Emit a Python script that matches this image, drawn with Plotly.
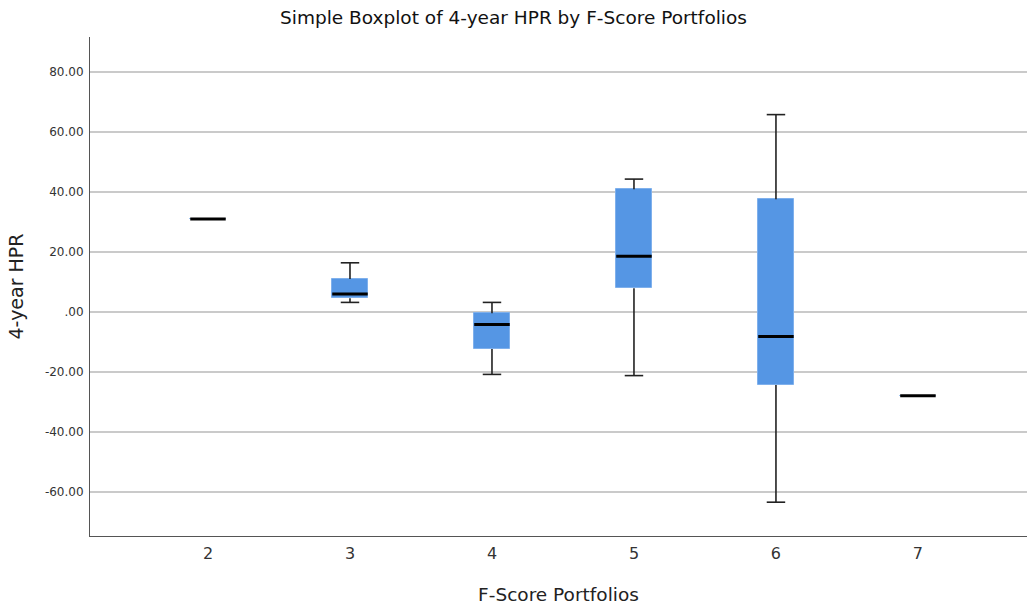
import plotly.graph_objects as go

# ---- data ----
categories = [2, 3, 4, 5, 6, 7]
tick_labels = ["2", "3", "4", "5", "6", "7"]
lower_whisker = [31.0, 3.2, -20.8, -21.2, -63.4, -27.9]
q1 = [31.0, 4.6, -12.3, 7.9, -24.3, -27.9]
median = [31.0, 6.0, -4.2, 18.6, -8.2, -27.9]
q3 = [31.0, 11.0, -0.4, 40.9, 37.6, -27.9]
upper_whisker = [31.0, 16.4, 3.2, 44.3, 65.8, -27.9]
y_ticks = [-60, -40, -20, 0, 20, 40, 60, 80]
y_tick_labels = ["-60.00", "-40.00", "-20.00", ".00", "20.00", "40.00", "60.00", "80.00"]

BOX_W = 0.25
CAP_HALF = 0.065
FILL = "#5596E4"

fig = go.Figure()

# boxes (q1..q3)
fig.add_trace(go.Bar(
    x=categories,
    y=[b - a for a, b in zip(q1, q3)],
    base=q1,
    width=BOX_W,
    marker=dict(color=FILL, line=dict(color="#7FB0EC", width=1)),
    hoverinfo="skip",
    showlegend=False,
))

# whiskers
wx, wy = [], []
for x, lo, a, b, hi in zip(categories, lower_whisker, q1, q3, upper_whisker):
    if hi > b:
        wx += [x, x, None, x - CAP_HALF, x + CAP_HALF, None]
        wy += [b, hi, None, hi, hi, None]
    if lo < a:
        wx += [x, x, None, x - CAP_HALF, x + CAP_HALF, None]
        wy += [a, lo, None, lo, lo, None]
fig.add_trace(go.Scatter(
    x=wx, y=wy, mode="lines",
    line=dict(color="#222222", width=1.6),
    hoverinfo="skip", showlegend=False,
))

# medians
mx, my = [], []
for x, m in zip(categories, median):
    mx += [x - BOX_W / 2, x + BOX_W / 2, None]
    my += [m, m, None]
fig.add_trace(go.Scatter(
    x=mx, y=my, mode="lines",
    line=dict(color="#000000", width=3),
    hoverinfo="skip", showlegend=False,
))

fig.update_layout(
    width=1027, height=606,
    margin=dict(l=90, r=0, t=37, b=70),
    paper_bgcolor="white", plot_bgcolor="white",
    font=dict(family="DejaVu Sans", color="#222222"),
    title=dict(
        text="Simple Boxplot of 4-year HPR by F-Score Portfolios",
        x=0.5, xanchor="center", y=1 - 18 / 606, yanchor="middle",
        font=dict(size=18.5, color="#111111"),
    ),
    bargap=0,
)

fig.update_xaxes(
    range=[1.169, 7.768],
    tickmode="array", tickvals=categories, ticktext=tick_labels,
    showgrid=False, zeroline=False,
    showline=True, linecolor="#555555", linewidth=1,
    ticks="", ticklabelstandoff=3,
    tickfont=dict(size=16, color="#333333"),
    title=dict(text="F-Score Portfolios", font=dict(size=18.5, color="#222222"), standoff=25),
)
fig.update_yaxes(
    range=[-74.67, 91.67],
    tickmode="array", tickvals=y_ticks, ticktext=y_tick_labels,
    showgrid=True, gridcolor="#CACACA", gridwidth=1.5,
    zeroline=False,
    showline=True, linecolor="#555555", linewidth=1,
    ticks="", ticklabelstandoff=3,
    tickfont=dict(size=12, color="#333333"),
    title=dict(text="4-year HPR", font=dict(size=19, color="#222222"), standoff=16),
)

fig.write_html("out.html")
